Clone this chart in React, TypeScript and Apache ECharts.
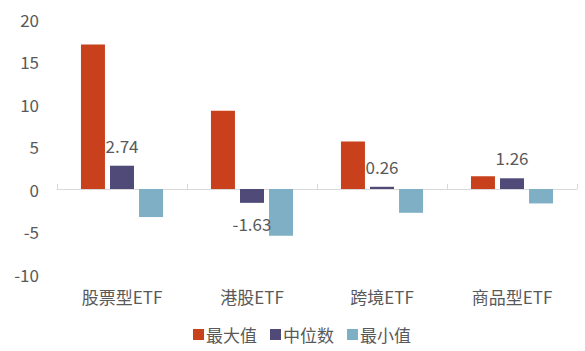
import React, { useEffect, useRef } from "react";
import * as echarts from "echarts";

const categories = ["股票型ETF", "港股ETF", "跨境ETF", "商品型ETF"];
const maxValues = [17.0, 9.2, 5.6, 1.5];
const medianValues = [2.74, -1.63, 0.26, 1.26];
const minValues = [-3.3, -5.5, -2.8, -1.7];
const yTicks = [-10, -5, 0, 5, 10, 15, 20];

export default function App() {
  const ref = useRef<HTMLDivElement>(null);
  useEffect(() => {
    if (!ref.current) return;
    const chart = echarts.init(ref.current, null, { renderer: "svg" });
    const font = "'Noto Sans CJK SC', 'Noto Sans', sans-serif";
    chart.setOption({
      animation: false,
      textStyle: { fontFamily: font },
      grid: { left: 57, right: 8, top: 19, bottom: 77, containLabel: false },
      legend: {
        bottom: 3,
        left: 188,
        itemWidth: 11,
        itemHeight: 11,
        itemGap: 13,
        icon: "rect",
        textStyle: { fontSize: 17, color: "#595959", fontFamily: font, padding: [0, 0, 0, -3] },
        data: ["最大值", "中位数", "最小值"],
      },
      xAxis: {
        type: "category",
        data: categories,
        axisLine: { onZero: true, lineStyle: { color: "#d9d9d9" } },
        axisTick: { show: true, inside: true, length: 5, lineStyle: { color: "#d9d9d9" } },
        axisLabel: {
          fontSize: 17,
          color: "#595959",
          fontFamily: font,
          margin: 14,
        },
        position: "bottom",
      },
      yAxis: {
        type: "value",
        min: yTicks[0],
        max: yTicks[yTicks.length - 1],
        interval: 5,
        axisLine: { show: false },
        axisTick: { show: false },
        splitLine: { show: false },
        axisLabel: { fontSize: 17, color: "#595959", fontFamily: font, margin: 18 },
      },
      series: [
        {
          name: "最大值",
          type: "bar",
          data: maxValues,
          barWidth: 24,
          barGap: "21%",
          itemStyle: { color: "#C8401C" },
        },
        {
          name: "中位数",
          type: "bar",
          data: medianValues,
          barWidth: 24,
          barGap: "21%",
          itemStyle: { color: "#4F4A78" },
          label: {
            show: true,
            position: "outside",
            distance: 12,
            fontSize: 17,
            color: "#595959",
            fontFamily: font,
            formatter: (p: any) => Number(p.value).toFixed(2),
          },
        },
        {
          name: "最小值",
          type: "bar",
          data: minValues,
          barWidth: 24,
          barGap: "21%",
          itemStyle: { color: "#7FAFC4" },
        },
      ],
    });
    return () => chart.dispose();
  }, []);
  return <div ref={ref} style={{ width: 585, height: 351, position: "absolute", left: 0, top: 0 }} />;
}
